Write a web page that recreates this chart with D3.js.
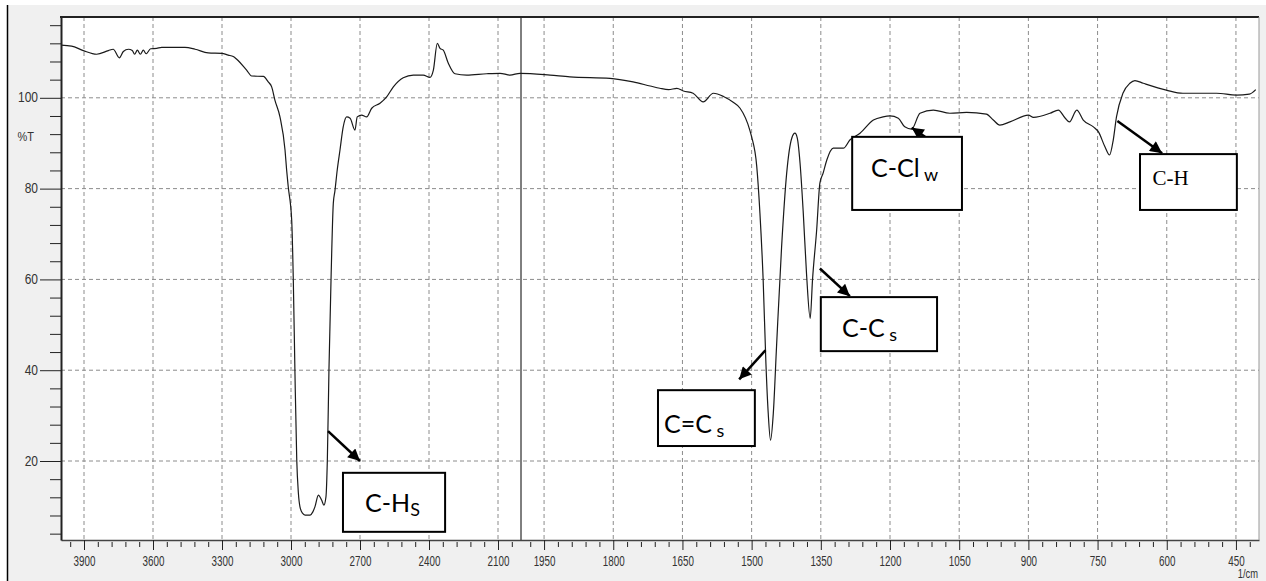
<!DOCTYPE html>
<html>
<head>
<meta charset="utf-8">
<script src="https://cdn.jsdelivr.net/npm/d3@7"></script>
<style>
  html, body { margin: 0; padding: 0; background: #fff; }
  svg { display: block; }
  .axis text { font-family: "Liberation Sans", Arial, sans-serif; font-size: 12px; fill: #333; }
  .axis line { stroke: #222; }
  .note { font-family: Lato, "Open Sans", sans-serif; font-size: 25px; fill: #000; }
  .note.serif { font-family: "Liberation Serif", "Times New Roman", serif; font-size: 21px; }
</style>
</head>
<body>
<svg id="chart" width="1266" height="581"></svg>
<script>
// spectrum (wavenumber in 1/cm, transmittance in %T)
const wavenumber = [
  4000, 3954, 3903, 3845, 3794, 3773, 3746, 3729, 3707, 3690, 3680, 3668, 3655, 3642, 3630, 3610,
  3584, 3562, 3461, 3417, 3360, 3301, 3273, 3251, 3236, 3193, 3171, 3120, 3099, 3084, 3070, 3048,
  3026, 3019, 3012, 2997, 2990, 2983, 2975, 2968, 2961, 2950, 2939, 2917, 2905, 2896, 2881, 2867,
  2857, 2848, 2842, 2835, 2826, 2816, 2809, 2799, 2787, 2773, 2758, 2743, 2722, 2712, 2693, 2671,
  2649, 2613, 2584, 2555, 2512, 2468, 2425, 2396, 2381, 2364, 2352, 2338, 2316, 2287, 2236, 2149,
  2091, 2048, 2004, 1937, 1894, 1807, 1757, 1720, 1699, 1680, 1662, 1648, 1627, 1605, 1583, 1561,
  1540, 1525, 1504, 1500, 1489, 1482, 1475, 1469, 1464, 1459, 1453, 1446, 1435, 1424, 1413, 1406,
  1401, 1395, 1388, 1381, 1373, 1368, 1359, 1352, 1345, 1337, 1323, 1301, 1287, 1265, 1236, 1215,
  1200, 1182, 1168, 1153, 1135, 1106, 1070, 1034, 991, 976, 962, 940, 900, 889, 853, 835,
  820, 811, 795, 781, 759, 748, 734, 724, 716, 709, 695, 680, 669, 651, 601, 565,
  492, 449, 421, 407
];
const transmittance = [
  111.6, 111.4, 110.4, 109.6, 110.4, 110.7, 108.8, 110.2, 110.7, 110.4, 109.6, 110.5, 109.6, 110.5, 109.7, 110.8,
  110.9, 111.1, 111.1, 110.7, 109.9, 109.8, 109.4, 109.1, 108.5, 106.1, 104.8, 104.7, 103.5, 102.4, 99.5, 95.8,
  88.5, 84.1, 80.4, 73.1, 59.9, 40, 20.2, 13, 9.9, 8.5, 8.1, 8.1, 8.8, 9.9, 12.5, 11.4,
  10.3, 12.1, 20.2, 40, 59.9, 76.8, 79.5, 84.1, 88.5, 93.6, 95.8, 95.5, 92.9, 95.8, 96.2, 95.8,
  97.7, 98.8, 100.2, 102.4, 104.4, 105, 105, 104.5, 106.1, 112, 110.9, 110.5, 107.6, 105.3, 105, 105.3,
  105.4, 105, 105.4, 105, 104.6, 104.3, 103.5, 102.6, 102.1, 101.8, 102.1, 101.5, 101, 99.1, 101, 100.3,
  99, 97.7, 92.9, 91.4, 85, 74.6, 59.9, 41.5, 30.5, 24.6, 30.5, 45.2, 67.2, 83.4, 91.1, 92.2,
  91.1, 85.6, 74.6, 61.3, 51.4, 59.9, 70.9, 81.2, 83.4, 86.3, 88.9, 88.9, 90.7, 92.2, 95.1, 95.8,
  96, 95.5, 93.6, 93.1, 96.6, 97.3, 96.6, 96.8, 96.4, 95.1, 94, 94.7, 96.2, 95.7, 96.6, 97.3,
  95.5, 94.7, 97.3, 95.1, 93.6, 92.5, 89.2, 87.4, 90.7, 95.8, 101, 103.2, 103.8, 103.2, 101.7, 101,
  101, 100.6, 100.8, 101.8
];

const xTickLabels = [3900, 3600, 3300, 3000, 2700, 2400, 2100, 1950, 1800, 1650, 1500, 1350, 1200, 1050, 900, 750, 600, 450];
const yTickLabels = [20, 40, 60, 80, 100];

// band labels, anchored in data units
const bands = [
  { label: 'C-H', sub: 'S', box: [2774, 17.4, 2330, 4.4], text: [2678, 8.8], from: [2839, 26.6], to: [2700, 20] },
  { label: 'C=C', sub: ' s', box: [1703, 35.6, 1493, 23.3], text: [1690, 26.2], from: [1470, 44.4], to: [1527, 38] },
  { label: 'C-C', sub: ' s', box: [1350, 56.1, 1098, 44.2], text: [1304, 47.3], from: [1352, 62.4], to: [1287, 56.3] },
  { label: 'C-Cl', sub: ' w', box: [1282, 91.4, 1044, 75.3], text: [1241, 82.6], from: [1124, 91.4], to: [1153, 93.4] },
  { label: 'C-H', sub: '', serif: true, box: [658, 87.6, 448, 75.3], text: [631, 80.8], from: [707, 94.9], to: [610, 87.8] }
];

const svg = d3.select('#chart');
const plotLeft = 61, plotRight = 1259, plotTop = 17, plotBottom = 540;

// the axis is split at 2000 1/cm: the right part is stretched twice
const x = d3.scaleLinear().domain([4000, 2000, 400]).range([plotLeft, 521, plotRight]);
const y = d3.scaleLinear().domain([2.6, 117.8]).range([plotBottom, plotTop]);

svg.append('rect').attr('width', 1266).attr('height', 581).attr('fill', '#fff');
svg.append('rect').attr('x', 8).attr('y', 5).attr('width', 1258).attr('height', 576).attr('fill', '#f0f0f0');
svg.append('line').attr('x1', 7.5).attr('x2', 7.5).attr('y1', 5).attr('y2', 581)
  .attr('stroke', '#000').attr('stroke-width', 1.5);

svg.append('rect').attr('x', plotLeft).attr('y', plotTop)
  .attr('width', plotRight - plotLeft).attr('height', plotBottom - plotTop).attr('fill', '#fff');

// grid
svg.append('g').selectAll('line').data(xTickLabels).enter().append('line')
  .attr('x1', d => x(d)).attr('x2', d => x(d))
  .attr('y1', plotTop).attr('y2', plotBottom)
  .attr('stroke', '#8c8c8c').attr('stroke-dasharray', '4,3');
svg.append('g').selectAll('line').data(yTickLabels).enter().append('line')
  .attr('x1', plotLeft).attr('x2', plotRight)
  .attr('y1', d => y(d)).attr('y2', d => y(d))
  .attr('stroke', '#8c8c8c').attr('stroke-dasharray', '4,3');

svg.append('line').attr('x1', x(2000)).attr('x2', x(2000)).attr('y1', plotTop).attr('y2', plotBottom)
  .attr('stroke', '#000').attr('stroke-width', 1);

// spectrum
const points = wavenumber.map((w, i) => [w, transmittance[i]]);
svg.append('path').datum(points)
  .attr('fill', 'none').attr('stroke', '#1a1a1a').attr('stroke-width', 1.2)
  .attr('d', d3.line().x(d => x(d[0])).y(d => y(d[1])).curve(d3.curveMonotoneX));

// x axis
const xMinor = d3.range(3960, 2000, -60).concat(d3.range(1980, 400, -30))
  .filter(v => xTickLabels.indexOf(v) < 0);
const xAxis = svg.append('g').attr('class', 'axis').attr('transform', 'translate(0,' + plotBottom + ')')
  .call(d3.axisBottom(x).tickValues(xTickLabels).tickSize(10).tickSizeOuter(0).tickFormat(d3.format('d')));
xAxis.select('.domain').attr('stroke', '#444').attr('stroke-width', 1.5);
xAxis.selectAll('text').attr('y', 0).attr('dy', 0)
  .attr('transform', 'translate(0,26) scale(0.82,1.15)');
svg.append('g').attr('class', 'axis').attr('transform', 'translate(0,' + (plotBottom + 2) + ')')
  .call(d3.axisBottom(x).tickValues(xMinor).tickSize(5).tickSizeOuter(0).tickFormat(''))
  .select('.domain').remove();

// y axis
const yMinor = d3.range(4, 117, 4).filter(v => yTickLabels.indexOf(v) < 0);
const yAxis = svg.append('g').attr('class', 'axis').attr('transform', 'translate(' + plotLeft + ',0)')
  .call(d3.axisLeft(y).tickValues(yTickLabels).tickSize(21).tickSizeOuter(0));
yAxis.select('.domain').attr('stroke', '#222').attr('stroke-width', 2);
yAxis.selectAll('text').attr('x', 0).attr('dy', 0)
  .attr('transform', 'translate(-23,4) scale(1,1.15)');
svg.append('g').attr('class', 'axis').attr('transform', 'translate(' + plotLeft + ',0)')
  .call(d3.axisLeft(y).tickValues(yMinor).tickSize(11).tickSizeOuter(0).tickFormat(''))
  .select('.domain').remove();

// frame
svg.append('line').attr('x1', plotLeft - 1).attr('x2', plotRight).attr('y1', plotTop).attr('y2', plotTop)
  .attr('stroke', '#222').attr('stroke-width', 2);
svg.append('line').attr('x1', plotRight).attr('x2', plotRight).attr('y1', plotTop).attr('y2', plotBottom)
  .attr('stroke', '#999').attr('stroke-width', 1);

svg.append('text').attr('transform', 'translate(34,141) scale(1,1.15)')
  .attr('text-anchor', 'end')
  .style('font-family', '"Liberation Sans", Arial, sans-serif').style('font-size', '11px').style('fill', '#333')
  .text('%T');
svg.append('text').attr('transform', 'translate(1258,578) scale(0.85,1.15)')
  .attr('text-anchor', 'end')
  .style('font-family', '"Liberation Sans", Arial, sans-serif').style('font-size', '11px').style('fill', '#333')
  .text('1/cm');

// band annotations
const defs = svg.append('defs');
defs.append('marker').attr('id', 'head')
  .attr('viewBox', '0 0 10 10').attr('refX', 10).attr('refY', 5)
  .attr('markerWidth', 15).attr('markerHeight', 12)
  .attr('markerUnits', 'userSpaceOnUse').attr('orient', 'auto')
  .append('path').attr('d', 'M0,0 L10,5 L0,10 Z').attr('fill', '#000');

const notes = svg.append('g').selectAll('g').data(bands).enter().append('g');
notes.append('line')
  .attr('x1', d => x(d.from[0])).attr('y1', d => y(d.from[1]))
  .attr('x2', d => x(d.to[0])).attr('y2', d => y(d.to[1]))
  .attr('stroke', '#000').attr('stroke-width', 2.5)
  .attr('marker-end', 'url(#head)');
notes.append('rect')
  .attr('x', d => x(d.box[0])).attr('y', d => y(d.box[1]))
  .attr('width', d => x(d.box[2]) - x(d.box[0]))
  .attr('height', d => y(d.box[3]) - y(d.box[1]))
  .attr('fill', '#fff').attr('stroke', '#000').attr('stroke-width', 2);
const label = notes.append('text')
  .attr('class', d => d.serif ? 'note serif' : 'note')
  .attr('x', d => x(d.text[0])).attr('y', d => y(d.text[1]));
label.append('tspan').text(d => d.label);
label.append('tspan')
  .attr('dy', 4).style('font-size', '18px')
  .attr('xml:space', 'preserve')
  .text(d => d.sub);
</script>
</body>
</html>
